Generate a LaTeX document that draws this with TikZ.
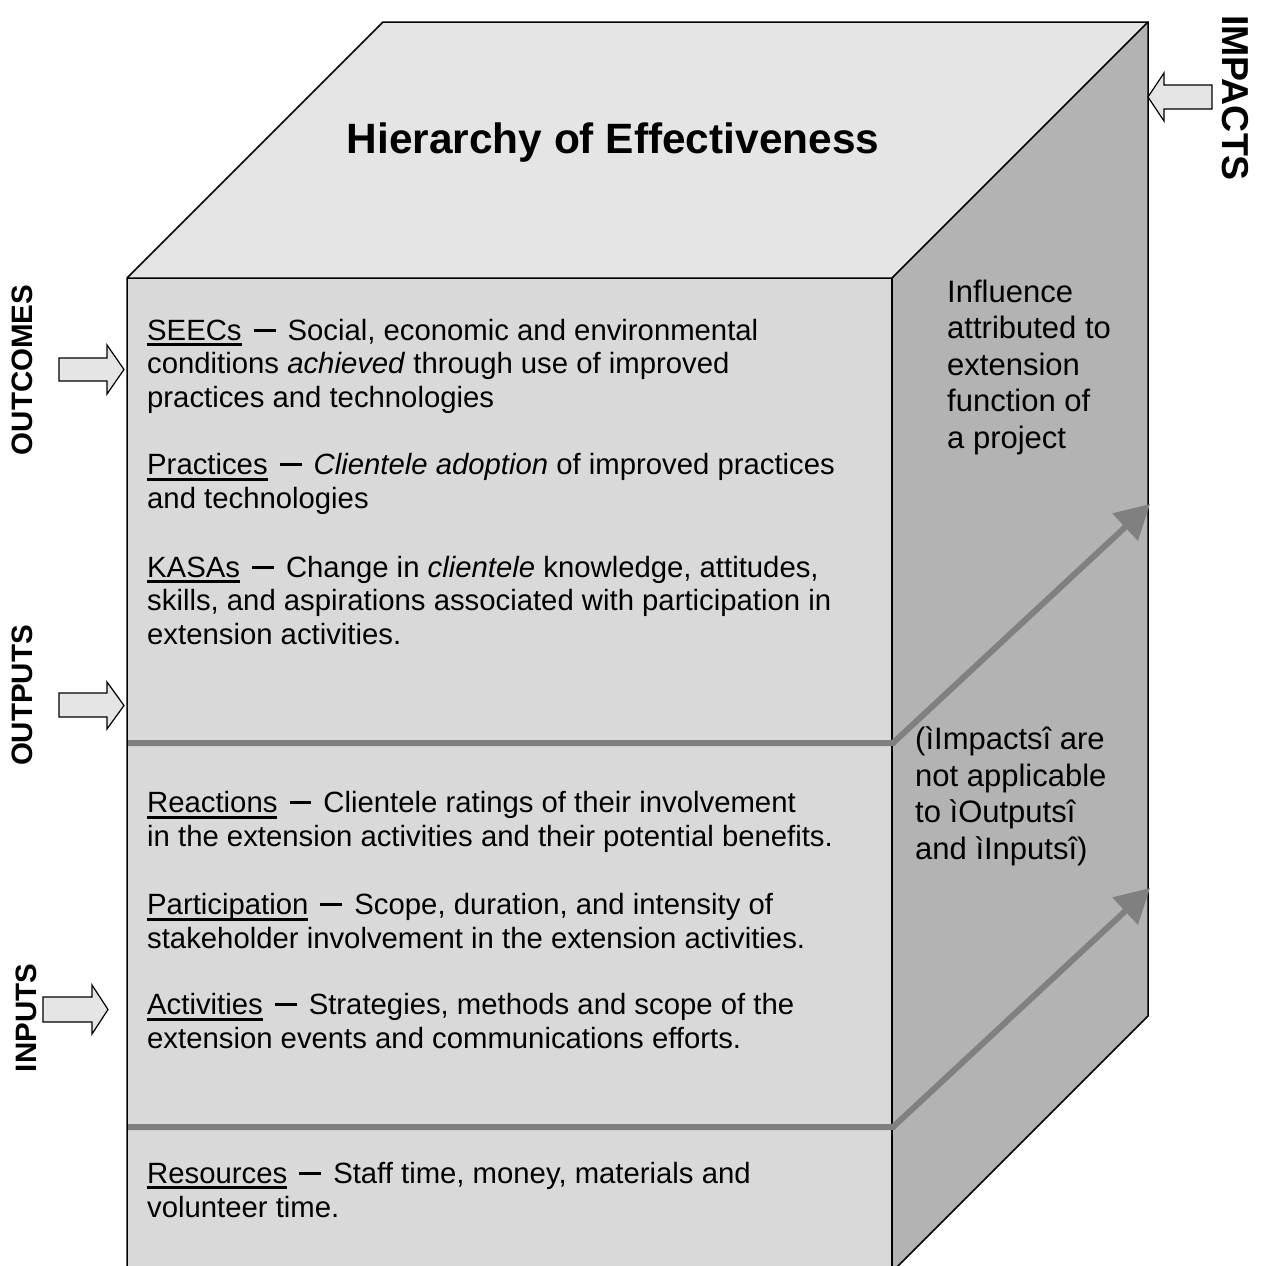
\documentclass[tikz,border=0pt]{standalone}
\usepackage{fontspec}
\setmainfont{Liberation Sans}
\usetikzlibrary{arrows.meta}

\definecolor{topface}{HTML}{E5E5E5}
\definecolor{frontface}{HTML}{D9D9D9}
\definecolor{sideface}{HTML}{B3B3B3}
\definecolor{divider}{HTML}{808080}
\definecolor{arrowfill}{HTML}{E5E5E5}

% underlined level name and the bar dash that follows it
\newcommand\headword[1]{\setbox0\hbox{#1}\rlap{\rule[-5.8pt]{\wd0}{3pt}}\box0}
\newcommand\bardash{\hspace{0.41em}\rule[0.29em]{0.75em}{0.1em}\hspace{0.41em}}

\begin{document}
\begin{tikzpicture}[x=1pt, y=-1pt,
  % multi-line nodes are placed by the baseline of their last line
  body/.style={font=\fontsize{29.3}{33.6}\selectfont, align=left, anchor=base west, inner sep=0pt},
  sidetext/.style={font=\fontsize{31}{36.5}\selectfont, align=left, anchor=base west, inner sep=0pt},
  sidelabel/.style={font=\fontsize{29.5}{30}\selectfont\bfseries, inner sep=0pt},
  face/.style={draw=black, line width=1.5pt, line join=miter},
  divline/.style={draw=divider, line width=6pt, line join=miter},
  rise/.style={divline, -{Triangle[length=34pt,width=36pt]}},
  blockarrow/.style={draw=black, fill=arrowfill, line width=1.2pt, line join=miter}]

\useasboundingbox (0,0) rectangle (1269,1266);

% the box: top, right side and front faces
\begin{scope}
  \clip (0,0) rectangle (1269,1266);
  \fill[topface] (127,278) -- (383,22) -- (1148,22) -- (892,278) -- cycle;
  \fill[sideface] (892,278) -- (1148,22) -- (1148,1016) -- (892,1272) -- cycle;
  \fill[frontface] (127,278) rectangle (892,1290);
  \draw[face] (127,1290) -- (127,278) -- (383,22) -- (1148,22) -- (1148,1016) -- (892,1272);
  \draw[face] (127,278) -- (892,278) -- (1148,22);
  \draw[face] (892,278) -- (892,1290);
\end{scope}

% level dividers rising onto the side face
\coordinate (upperleft) at (128,743);
\coordinate (uppercorner) at (893,743);
\coordinate (uppertip) at (1150,504);
\coordinate (lowerleft) at (128,1127);
\coordinate (lowercorner) at (893,1127);
\coordinate (lowertip) at (1150,888);
\draw[rise] (upperleft) -- (uppercorner) -- (uppertip);
\draw[rise] (lowerleft) -- (lowercorner) -- (lowertip);

% block arrows
\draw[blockarrow] (59,358) -- (107,358) -- (107,345) -- (124,369.5) -- (107,394) -- (107,381) -- (59,381) -- cycle;
\draw[blockarrow] (59,693) -- (107,693) -- (107,682) -- (124,705.5) -- (107,729) -- (107,717) -- (59,717) -- cycle;
\draw[blockarrow] (43,997) -- (92,997) -- (92,985) -- (108,1009.5) -- (92,1034) -- (92,1022) -- (43,1022) -- cycle;
\draw[blockarrow] (1212,85) -- (1164,85) -- (1164,73) -- (1148,97) -- (1164,121) -- (1164,109) -- (1212,109) -- cycle;

% side labels
\node[sidelabel, rotate=90] (outcomes) at (22.5,370) {OUTCOMES};
\node[sidelabel, rotate=90] (outputs) at (22.5,695.5) {OUTPUTS};
\node[sidelabel, rotate=90] (inputs) at (26,1018) {INPUTS};
\node[sidelabel, rotate=-90, font=\fontsize{37.5}{38}\selectfont\bfseries] (impacts) at (1235.5,98) {IMPACTS};

% title on the top face
\node[font=\fontsize{42.4}{48}\selectfont\bfseries, anchor=base, inner sep=0pt] (title) at (613,153) {Hierarchy of Effectiveness};

% front face levels
\node[body] (seecs) at (147,407.5) {\headword{SEECs}\bardash Social, economic and environmental\\conditions \textit{achieved} through use of improved\\practices and technologies};
\node[body] (practices) at (147,508.5) {\headword{Practices}\bardash\textit{Clientele adoption} of improved practices\\and technologies};
\node[body] (kasas) at (147,644.5) {\headword{KASAs}\bardash Change in \textit{clientele} knowledge, attitudes,\\skills, and aspirations associated with participation in\\extension activities.};
\node[body] (reactions) at (147,846.5) {\headword{Reactions}\bardash Clientele ratings of their involvement\\in the extension activities and their potential benefits.};
\node[body] (participation) at (147,948.5) {\headword{Participation}\bardash Scope, duration, and intensity of\\stakeholder involvement in the extension activities.};
\node[body] (activities) at (147,1048.5) {\headword{Activities}\bardash Strategies, methods and scope of the\\extension events and communications efforts.};
\node[body] (resources) at (147,1217) {\headword{Resources}\bardash Staff time, money, materials and\\volunteer time.};

% side face notes
\node[sidetext] (influence) at (947,448) {Influence\\attributed to\\extension\\function of\\a project};
\node[sidetext] (impnote) at (915,859) {(ìImpactsî are\\not applicable\\to ìOutputsî\\and ìInputsî)};

\end{tikzpicture}
\end{document}
